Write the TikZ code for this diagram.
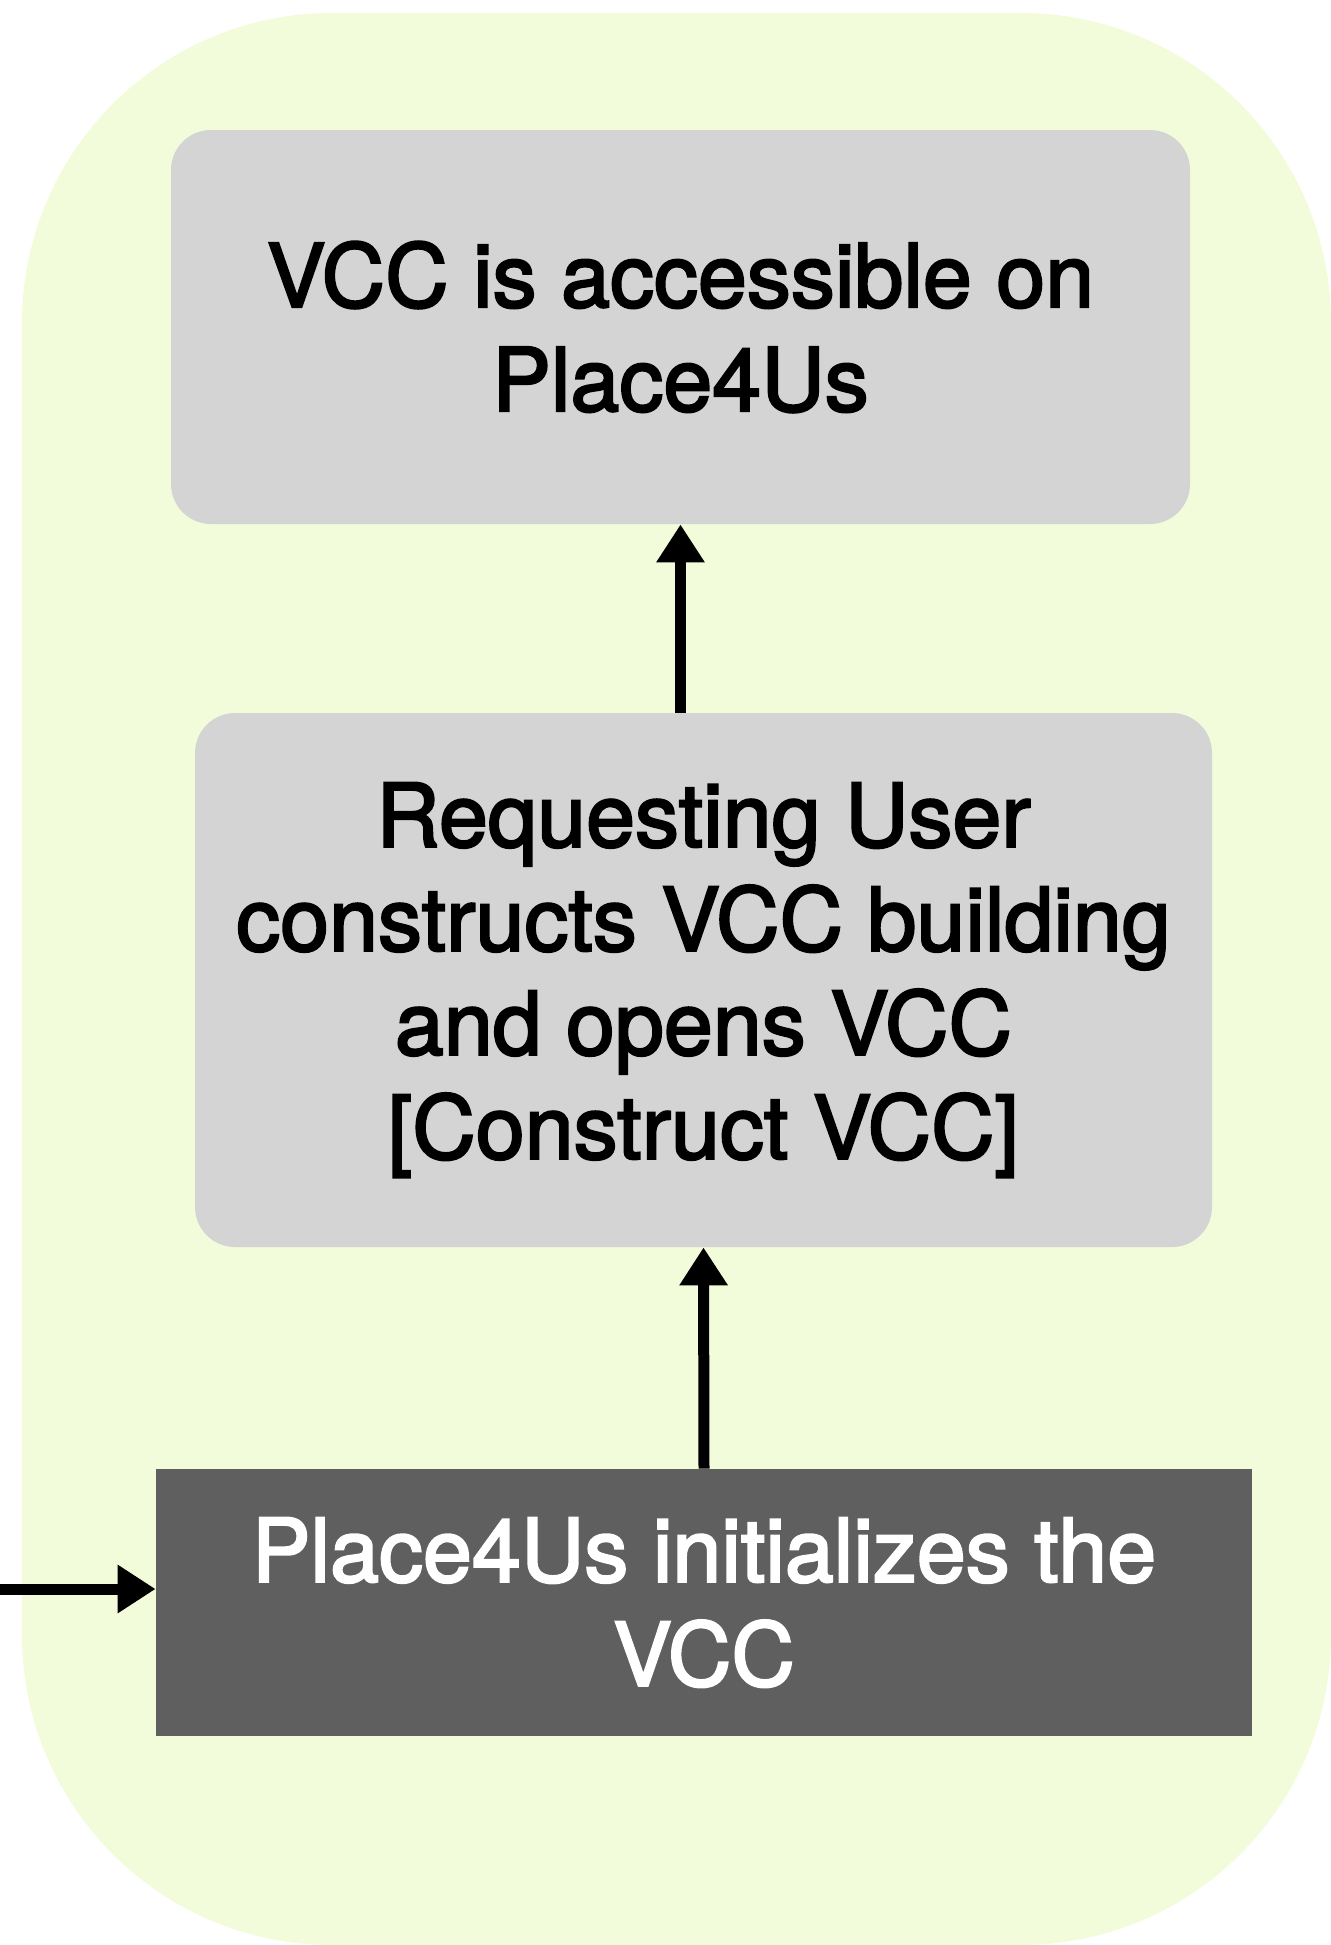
\documentclass[tikz,border=0pt]{standalone}
\usepackage{fontspec}
\setmainfont{TeX Gyre Heros}
\newfontfamily\labelfont[FakeBold=2.5]{TeX Gyre Heros}
\usepackage{tikz}
\usetikzlibrary{arrows.meta, positioning, calc}
\usepackage{xcolor}

\definecolor{bggreen}{RGB}{242,252,219}
\definecolor{boxgray}{RGB}{212,212,212}
\definecolor{boxdark}{RGB}{95,95,95}

\tikzset{
  stepbox/.style={rectangle, rounded corners=20pt, fill=boxgray, draw=none, text=black,
    align=center, inner sep=0pt, font=\labelfont\fontsize{44}{52}\selectfont},
  startbox/.style={rectangle, fill=boxdark, draw=none, text=white,
    align=center, inner sep=0pt, font=\labelfont\fontsize{44}{52}\selectfont},
  flow/.style={-{Triangle[width=23pt, length=19pt]}, line width=5.5pt, black}
}

\begin{document}
\begin{tikzpicture}[x=0.5pt, y=-0.5pt]
      \useasboundingbox (0, 0) rectangle (1331, 1945);

      % lane background
      \fill[bggreen, rounded corners=155pt] (22, 13) rectangle (1331, 1945);

      \node[stepbox, minimum width=509.5pt, minimum height=197pt] (access) at (680.5, 327) {VCC is accessible on\\Place4Us};
      \node[stepbox, minimum width=508.5pt, minimum height=267pt] (construct) at (703.5, 980) {Requesting User\\constructs VCC building\\and opens VCC\\{[Construct VCC]}};
      \node[startbox, minimum width=548pt, minimum height=133.5pt] (init) at (704, 1602.5) {Place4Us initializes the\\VCC};

      \coordinate (entry) at (0, 1589);

      \draw[flow] (entry) -- (entry -| init.west);
      \draw[flow] (init.north) -- (construct.south);
      \draw[flow] (construct.north -| access.south) -- (access.south);

\end{tikzpicture}
\end{document}
